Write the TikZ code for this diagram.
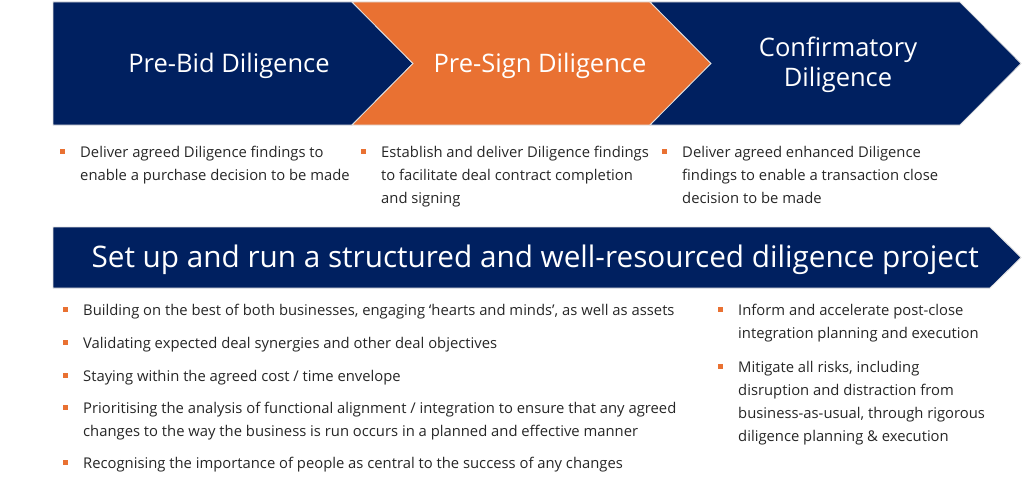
\documentclass[tikz,border=0pt]{standalone}
\usepackage{fontspec}
\setmainfont{Open Sans}
\usetikzlibrary{positioning}
\definecolor{navy}{RGB}{0,32,96}
\definecolor{deal}{RGB}{233,113,50}
\definecolor{ink}{RGB}{38,38,38}
\tikzstyle{phase} = [draw=black!12, line width=0.8pt]
\tikzstyle{title} = [text=white, font=\fontsize{25.5}{30}\selectfont, align=center]
\tikzstyle{banner} = [text=white, font=\fontsize{29.7}{30}\selectfont, anchor=west]
\tikzstyle{dot} = [fill=deal, inner sep=0pt, minimum size=5pt]
\tikzstyle{item} = [anchor=base west, inner sep=0pt, text=ink, font=\fontsize{14.8}{23}\selectfont, align=left]

\begin{document}
\begin{tikzpicture}[x=1pt, y=-1pt, node distance=15pt]
 \useasboundingbox (0,0) rectangle (1024,484);
 \fill[phase, fill=navy] (53,2) -- (352,2) -- (413,63.5) -- (352,125) -- (53,125) -- cycle;
 \fill[phase, fill=deal] (352,2) -- (650,2) -- (711,63.5) -- (650,125) -- (352,125) -- (413,63.5) -- cycle;
 \fill[phase, fill=navy] (650,2) -- (960,2) -- (1021,63.5) -- (960,125) -- (650,125) -- (711,63.5) -- cycle;
 \fill[phase, fill=navy] (53,227) -- (990,227) -- (1021,257.5) -- (990,288) -- (53,288) -- cycle;

 \node (prebid) [title] at (229,65.5) {Pre-Bid Diligence};
 \node (presign) [title] at (540,65.5) {Pre-Sign Diligence};
 \node (confirm) [title] at (838,65) {Confirmatory\\Diligence};
 \node (project) [banner] at (88,260) {Set up and run a structured and well-resourced diligence project};

 \node (a1) [item] at (80,180) {Deliver agreed Diligence findings to\\enable a purchase decision to be made};
 \node (a2) [item] at (381,203) {Establish and deliver Diligence findings\\to facilitate deal contract completion\\and signing};
 \node (a3) [item] at (682,203) {Deliver agreed enhanced Diligence\\findings to enable a transaction close\\decision to be made};
 \node (da1) [dot] at (62,151) {};
 \node (da2) [dot] at (363,151) {};
 \node (da3) [dot] at (664,151) {};

 \node (b1) [item] at (83,315) {Building on the best of both businesses, engaging ‘hearts and minds’, as well as assets};
 \node (b2) [item] at (83,348) {Validating expected deal synergies and other deal objectives};
 \node (b3) [item] at (83,381) {Staying within the agreed cost / time envelope};
 \node (b4) [item] at (83,436) {Prioritising the analysis of functional alignment / integration to ensure that any agreed\\changes to the way the business is run occurs in a planned and effective manner};
 \node (b5) [item] at (83,468) {Recognising the importance of people as central to the success of any changes};
 \node (db1) [dot] at (65,309) {};
 \node (db2) [dot] at (65,342) {};
 \node (db3) [dot] at (65,375) {};
 \node (db4) [dot] at (65,407) {};
 \node (db5) [dot] at (65,462) {};

 \node (c1) [item] at (738,338) {Inform and accelerate post-close\\integration planning and execution};
 \node (c2) [item] at (738,441) {Mitigate all risks, including\\disruption and distraction from\\business-as-usual, through rigorous\\diligence planning \& execution};
 \node (dc1) [dot] at (720,309) {};
 \node (dc2) [dot] at (720,366) {};
\end{tikzpicture}
\end{document}
